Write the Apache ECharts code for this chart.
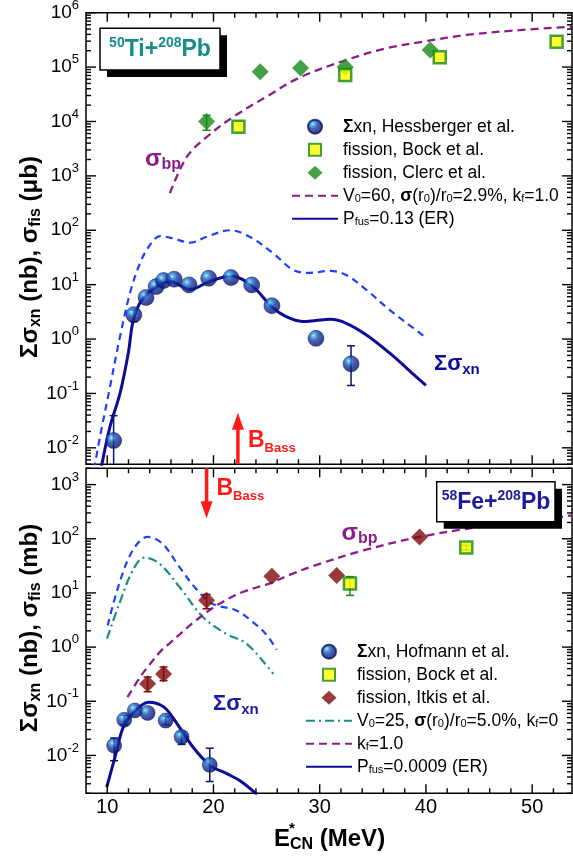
<!DOCTYPE html>
<html>
<head>
<meta charset="utf-8">
<script src="https://cdn.jsdelivr.net/npm/echarts@6/dist/echarts.min.js"></script>
<style>
  html, body { margin: 0; padding: 0; background: #fff; }
  #chart { width: 573px; height: 859px; }
</style>
</head>
<body>
<div id="chart"></div>
<script>
const FONT = 'Liberation Sans';

// ---------- shared energy axis ----------
const xRange = [8, 53.75];
const xLabels = [10, 20, 30, 40, 50];

// ---------- 50Ti + 208Pb (upper panel) ----------
const topRange = [0.005, 1e6];
const hessX = [10.6, 12.5, 13.65, 14.6, 15.3, 16.3, 17.7, 19.55, 21.65, 23.6, 25.5, 29.65, 32.95];
const hessY = [0.0136, 2.8, 5.8, 9.2, 11.9, 12.6, 9.9, 13.1, 13.5, 9.9, 4.1, 1.03, 0.35];
const hessLo = [0.001, 2.1, null, null, null, null, null, null, null, null, null, null, 0.14];
const hessHi = [0.039, 3.4, null, null, null, null, null, null, null, null, null, null, 0.75];

const bockTiX = [22.35, 32.4, 41.3, 52.3];
const bockTiY = [8000, 71600, 151000, 293000];

const clercX = [19.35, 24.4, 28.2, 32.4, 40.4];
const clercY = [10000, 82000, 96000, 100000, 206000];
const clercLo = [6900, null, null, null, null];
const clercHi = [13000, null, null, null, null];

const bpTiX = [15.9, 17.5, 19.4, 21.9, 25.0, 28.1, 32.5, 36.3, 40.1, 43.8, 48.2, 53.75];
const bpTiY = [480, 2250, 5250, 12300, 28600, 64000, 135000, 222000, 302000, 390000, 468000, 555000];

const erTiX = [9.4, 10.26, 11.2, 11.98, 12.45, 13.24, 14.65, 15.9, 17.8, 19.6, 21.65, 23.7, 25.5, 26.8, 28.4, 29.65, 31.0, 32.5, 34.4, 36.6, 38.2, 40.0];
const erTiY = [0.004, 0.0245, 0.1, 0.55, 2.2, 5.2, 9.2, 11.4, 8.2, 11.4, 14.5, 9.2, 3.9, 2.6, 2.1, 2.2, 2.3, 1.95, 1.19, 0.55, 0.29, 0.14];

const fusTiX = [8.75, 9.32, 10.26, 11.2, 12.14, 13.08, 14.0, 14.97, 16.2, 17.8, 19.36, 21.55, 23.4, 25.6, 27.5, 29.0, 31.0, 32.5, 34.4, 36.6, 38.2, 39.8];
const fusTiY = [0.004, 0.016, 0.133, 1.1, 7, 24.7, 53, 78, 71, 59, 76, 100, 76, 38, 18.7, 16.5, 17.9, 15, 8, 3.4, 1.96, 1.14];

const bassTi = [22.3, 0.005, 0.044];

// ---------- 58Fe + 208Pb (lower panel) ----------
const botRange = [0.002, 2000];
const hofX = [10.65, 11.6, 12.6, 13.8, 15.5, 17.0, 19.65];
const hofY = [0.0152, 0.0455, 0.0676, 0.061, 0.044, 0.022, 0.0067];
const hofLo = [0.008, 0.037, null, null, 0.037, 0.016, 0.0033];
const hofHi = [0.021, 0.055, null, null, 0.052, 0.027, 0.0136];

const bockFeX = [32.85, 43.8];
const bockFeY = [14.9, 69];
const bockFeLo = [9, 62];
const bockFeHi = [20, 76];

const itkX = [13.8, 15.3, 19.35, 25.5, 31.6, 39.4];
const itkY = [0.21, 0.32, 7.3, 20.3, 21, 108];
const itkLo = [0.15, 0.24, 5.1, null, null, null];
const itkHi = [0.28, 0.43, 9.4, null, null, null];

const bpFeX = [11.9, 13.1, 13.8, 15.1, 15.84, 18.35, 20.55, 22.75, 25.25, 27.45, 29.5, 34.1, 39.4, 45.1, 50.1, 53.75];
const bpFeY = [0.119, 0.28, 0.43, 0.87, 1.16, 3.1, 6.3, 10.4, 14.9, 22.7, 32, 61, 108, 166, 219, 270];

const kf0X = [9.98, 11.13, 12.4, 13.5, 14.9, 16.8, 19.0, 21.17, 23.1, 25.25, 25.63];
const kf0Y = [1.43, 6.3, 26, 45, 35, 12.9, 3.6, 1.77, 1.16, 0.4, 0.32];

const fusFeX = [10.04, 11.13, 12.4, 13.8, 15.2, 16.8, 18.35, 19.9, 22.1, 23.7, 24.9, 25.95];
const fusFeY = [2.5, 14.9, 61, 108, 81, 30, 12, 6.3, 4.8, 2.9, 1.77, 0.9];

const erFeX = [9.95, 10.73, 11.5, 12.5, 13.9, 15.34, 16.6, 18.1, 19.7, 21.26, 22.5, 24.1];
const erFeY = [0.0026, 0.0093, 0.033, 0.063, 0.096, 0.078, 0.038, 0.014, 0.0065, 0.0046, 0.0034, 0.0019];

const bassFe = [19.35, 2000, 240];

// ---------- colours ----------
const C = {
  purple: '#8b1d8b', blue: '#2040ff', navy: '#0d0d99', teal: '#1a8c8c',
  green: '#168a16', yellow: '#ffff00', maroon: '#7f0a0a', red: '#ff1a1a',
  sphereEdge: '#0a1464'
};
const sphere = {
  type: 'radial', x: 0.36, y: 0.33, r: 0.72,
  colorStops: [
    { offset: 0, color: '#b4f0ff' }, { offset: 0.14, color: '#3aa8e2' },
    { offset: 0.42, color: '#1a40aa' }, { offset: 0.78, color: '#0c1a7c' }, { offset: 1, color: '#08105c' }
  ]
};

// legend glyphs sized inside the 46x14 legend slot
const ICON_SQUARE = 'path://M0,0M46,14M17,1h12v12h-12z';
const ICON_DIAMOND = 'path://M0,0M46,14M23,0L30.5,7L23,14L15.5,7z';

const pairs = (xs, ys) => xs.map((x, i) => [x, ys[i]]);

function curve(gi, name, xs, ys, color, width, type) {
  return {
    type: 'line', name, xAxisIndex: gi, yAxisIndex: gi, data: pairs(xs, ys),
    symbol: 'none', smooth: 0.35, clip: true, z: 2,
    lineStyle: { color, width, type }, itemStyle: { color }
  };
}

function points(gi, name, xs, ys, symbol, size, itemStyle) {
  return {
    type: 'scatter', name, xAxisIndex: gi, yAxisIndex: gi, data: pairs(xs, ys),
    symbol, symbolSize: size, itemStyle, z: 4
  };
}

function errorBars(gi, xs, lo, hi, color, cap) {
  const data = [];
  xs.forEach((x, i) => { if (lo[i] != null) data.push([x, lo[i], hi[i]]); });
  return {
    type: 'custom', xAxisIndex: gi, yAxisIndex: gi, silent: true, z: 3, data,
    encode: { x: 0, y: [1, 2] },
    renderItem(params, api) {
      const cs = params.coordSys;
      const yTop = cs.y, yBot = cs.y + cs.height;
      const x = api.value(0);
      const a = api.coord([x, api.value(1)]);
      const b = api.coord([x, api.value(2)]);
      const st = { stroke: color, lineWidth: 1.5 };
      const kids = [{ type: 'line', shape: { x1: a[0], y1: Math.min(a[1], yBot), x2: b[0], y2: Math.max(b[1], yTop) }, style: st }];
      if (a[1] <= yBot) kids.push({ type: 'line', shape: { x1: a[0] - cap, y1: a[1], x2: a[0] + cap, y2: a[1] }, style: st });
      if (b[1] >= yTop) kids.push({ type: 'line', shape: { x1: b[0] - cap, y1: b[1], x2: b[0] + cap, y2: b[1] }, style: st });
      return { type: 'group', children: kids };
    }
  };
}

function arrow(gi, spec) {
  return {
    type: 'custom', xAxisIndex: gi, yAxisIndex: gi, silent: true, z: 4,
    data: [spec], encode: { x: 0, y: [1, 2] },
    renderItem(params, api) {
      const a = api.coord([api.value(0), api.value(1)]);
      const b = api.coord([api.value(0), api.value(2)]);
      const dir = Math.sign(b[1] - a[1]);
      const head = 17, hw = 6;
      const base = b[1] - dir * head;
      return {
        type: 'group', children: [
          { type: 'line', shape: { x1: a[0], y1: a[1], x2: a[0], y2: base + dir * 2 }, style: { stroke: C.red, lineWidth: 3.5 } },
          { type: 'polygon', shape: { points: [[b[0], b[1]], [b[0] - hw, base], [b[0] + hw, base]] }, style: { fill: C.red } }
        ]
      };
    }
  };
}

// inward ticks on all four sides, log minor ticks on the value axes
function frameTicks(gi, yr) {
  return {
    type: 'custom', xAxisIndex: gi, yAxisIndex: gi, silent: true, z: 6,
    data: [[xRange[0], yr[0]]],
    renderItem(params, api) {
      const kids = [];
      const st = { stroke: '#000', lineWidth: 1.4 };
      const add = (x1, y1, x2, y2) => kids.push({ type: 'line', shape: { x1, y1, x2, y2 }, style: st });
      for (let x = 10; x < xRange[1]; x += 2) {
        const len = x % 10 === 0 ? 9 : 5;
        const pb = api.coord([x, yr[0]]);
        const pt = api.coord([x, yr[1]]);
        add(pb[0], pb[1], pb[0], pb[1] - len);
        add(pt[0], pt[1], pt[0], pt[1] + len);
      }
      const k0 = Math.floor(Math.log10(yr[0])), k1 = Math.ceil(Math.log10(yr[1]));
      for (let k = k0; k <= k1; k++) {
        for (let m = 1; m <= 9; m++) {
          const v = m * Math.pow(10, k);
          if (v < yr[0] * 0.999 || v > yr[1] * 1.001) continue;
          const len = m === 1 ? 10 : 5;
          const pl = api.coord([xRange[0], v]);
          const pr = api.coord([xRange[1], v]);
          add(pl[0], pl[1], pl[0] + len, pl[1]);
          add(pr[0], pr[1], pr[0] - len, pr[1]);
        }
      }
      return { type: 'group', children: kids };
    }
  };
}

function powLabel(v) {
  const l = Math.log10(v);
  const e = Math.round(l);
  if (Math.abs(l - e) > 1e-6) return '';
  return '10{sup|' + e + '}';
}

function yAxis(gi, yr) {
  return {
    gridIndex: gi, type: 'log', logBase: 10, min: yr[0], max: yr[1], splitNumber: 10,
    axisLine: { show: false }, axisTick: { show: false }, splitLine: { show: false },
    axisLabel: {
      formatter: powLabel, margin: 7, color: '#000', fontFamily: FONT, fontSize: 19, lineHeight: 28,
      rich: { sup: { fontFamily: FONT, fontSize: 13, lineHeight: 10, verticalAlign: 'top', color: '#000' } }
    }
  };
}

function xAxis(gi, labels) {
  return {
    gridIndex: gi, type: 'value', min: xRange[0], max: xRange[1], interval: 2,
    axisLine: { show: false }, axisTick: { show: false }, splitLine: { show: false },
    axisLabel: {
      show: labels, margin: 4, color: '#000', fontFamily: FONT, fontSize: 20,
      formatter: v => (xLabels.indexOf(v) >= 0 ? String(v) : '')
    }
  };
}

// ---------- legend text ----------
const legText = {
  'Σxn, Hessberger et al.': '{b|Σ}xn, Hessberger et al.',
  'Σxn, Hofmann et al.': '{b|Σ}xn, Hofmann et al.',
  'fission, Bock et al.': 'fission, Bock et al.',
  'fission, Clerc et al.': 'fission, Clerc et al.',
  'fission, Itkis et al.': 'fission, Itkis et al.',
  'V0=60, σ(r0)/r0=2.9%, kf=1.0': 'V{s|0}=60, {b|σ}(r{s|0})/r{s|0}=2.9%, k{s|f}=1.0',
  'V0=25, σ(r0)/r0=5.0%, kf=0': 'V{s|0}=25, {b|σ}(r{s|0})/r{s|0}=5.0%, k{s|f}=0',
  'kf=1.0': 'k{s|f}=1.0',
  'Pfus=0.13 (ER)': 'P{s|fus}=0.13 (ER)',
  'Pfus=0.0009 (ER)': 'P{s|fus}=0.0009 (ER)'
};
const legRich = {
  b: { fontFamily: FONT, fontSize: 17.5, fontWeight: 'bold', lineHeight: 18, color: '#000' },
  s: { fontFamily: FONT, fontSize: 11, lineHeight: 5, verticalAlign: 'bottom', color: '#000' }
};
// icon === null: keep the series' own line sample, hide its centre marker
function legend(left, top, items) {
  return {
    orient: 'vertical', left, top, padding: 0, itemWidth: 46, itemHeight: 14, itemGap: 5,
    selectedMode: false,
    data: items.map(([name, icon]) => (icon ? { name, icon } : { name, itemStyle: { opacity: 0 } })),
    formatter: n => legText[n],
    textStyle: { fontFamily: FONT, fontSize: 17.5, lineHeight: 18, color: '#000', rich: legRich }
  };
}

// ---------- annotation text ----------
function richText(x, y, text, fill, main, sub, align, rotation) {
  return {
    type: 'text', x, y, z: 100, silent: true, rotation: rotation || 0,
    style: {
      text, fill, fontFamily: FONT, fontWeight: 'bold', fontSize: main, lineHeight: main + 4,
      align: align || 'left', verticalAlign: 'middle',
      rich: {
        m: { fontFamily: FONT, fontWeight: 'bold', fontSize: main, lineHeight: main + 4 },
        s: { fontFamily: FONT, fontWeight: 'bold', fontSize: sub, lineHeight: 10, verticalAlign: 'bottom' },
        p: { fontFamily: FONT, fontWeight: 'bold', fontSize: sub, lineHeight: 10, verticalAlign: 'top' }
      }
    }
  };
}
function box(x, y, w, h) {
  return [
    { type: 'rect', z: 99, silent: true, shape: { x: x + 7, y: y + 7, width: w, height: h }, style: { fill: '#000' } },
    { type: 'rect', z: 99, silent: true, shape: { x, y, width: w, height: h }, style: { fill: '#fff', stroke: '#000', lineWidth: 1.5 } }
  ];
}

const graphic = [
  ...box(100, 28.3, 120, 41.7),
  richText(160, 50, '{p|50}Ti+{p|208}Pb', '#178c8c', 23, 14, 'center'),
  ...box(436.7, 481.7, 118.3, 40),
  richText(496, 502.5, '{p|58}Fe+{p|208}Pb', '#1c1c9c', 23, 14, 'center'),
  richText(145, 159, '{m|σ}{s|bp}', C.purple, 24, 16),
  richText(341.5, 533, '{m|σ}{s|bp}', C.purple, 24, 16),
  richText(434, 364, '{m|Σσ}{s|xn}', '#0c0c96', 22, 15),
  richText(213, 704, '{m|Σσ}{s|xn}', '#1a1aa8', 22, 15),
  richText(248, 441, '{m|B}{s|Bass}', C.red, 23, 13),
  richText(216.5, 489, '{m|B}{s|Bass}', C.red, 23, 13),
  richText(30, 257, '{m|Σσ}{s|xn}{m| (nb), σ}{s|fis}{m| (μb)}', '#000', 24, 16, 'center', Math.PI / 2),
  richText(30, 628, '{m|Σσ}{s|xn}{m| (nb), σ}{s|fis}{m| (mb)}', '#000', 24, 16, 'center', Math.PI / 2),
  richText(274, 839, '{m|E}{s|CN}{m| (MeV)}', '#000', 24, 16),
  richText(289, 829, '*', '#000', 15, 10)
];

const option = {
  animation: false,
  backgroundColor: '#fff',
  textStyle: { fontFamily: FONT },
  grid: [
    { left: 86, top: 12.7, width: 486, height: 451.5, show: true, borderColor: '#000', borderWidth: 1.5, backgroundColor: 'transparent', containLabel: false, outerBoundsMode: 'none' },
    { left: 86, top: 468.3, width: 486, height: 325, show: true, borderColor: '#000', borderWidth: 1.5, backgroundColor: 'transparent', containLabel: false, outerBoundsMode: 'none' }
  ],
  xAxis: [xAxis(0, false), xAxis(1, true)],
  yAxis: [yAxis(0, topRange), yAxis(1, botRange)],
  legend: [
    legend(291, 117.7, [
      ['Σxn, Hessberger et al.', 'circle'], ['fission, Bock et al.', ICON_SQUARE],
      ['fission, Clerc et al.', ICON_DIAMOND], ['V0=60, σ(r0)/r0=2.9%, kf=1.0', null], ['Pfus=0.13 (ER)', null]
    ]),
    legend(305, 642.7, [
      ['Σxn, Hofmann et al.', 'circle'], ['fission, Bock et al.', ICON_SQUARE],
      ['fission, Itkis et al.', ICON_DIAMOND], ['V0=25, σ(r0)/r0=5.0%, kf=0', null],
      ['kf=1.0', null], ['Pfus=0.0009 (ER)', null]
    ])
  ],
  graphic,
  series: [
    // upper panel
    curve(0, 'fusion, 50Ti+208Pb', fusTiX, fusTiY, C.blue, 2.2, [7, 5]),
    curve(0, 'Pfus=0.13 (ER)', erTiX, erTiY, C.navy, 3, 'solid'),
    curve(0, 'V0=60, σ(r0)/r0=2.9%, kf=1.0', bpTiX, bpTiY, C.purple, 2.3, [8, 5]),
    errorBars(0, hessX, hessLo, hessHi, C.sphereEdge, 4),
    points(0, 'Σxn, Hessberger et al.', hessX, hessY, 'circle', 16, { color: sphere, borderColor: C.sphereEdge, borderWidth: 0.6 }),
    errorBars(0, clercX, clercLo, clercHi, C.green, 4),
    points(0, 'fission, Clerc et al.', clercX, clercY, 'diamond', 17, { color: C.green }),
    points(0, 'fission, Bock et al.', bockTiX, bockTiY, 'rect', 12, { color: C.yellow, borderColor: C.green, borderWidth: 2.5 }),
    arrow(0, bassTi),
    frameTicks(0, topRange),
    // lower panel
    curve(1, 'fusion, 58Fe+208Pb', fusFeX, fusFeY, C.blue, 2.2, [7, 5]),
    curve(1, 'V0=25, σ(r0)/r0=5.0%, kf=0', kf0X, kf0Y, C.teal, 2.2, [9, 4, 2, 4]),
    curve(1, 'kf=1.0', bpFeX, bpFeY, C.purple, 2.3, [8, 5]),
    curve(1, 'Pfus=0.0009 (ER)', erFeX, erFeY, C.navy, 3, 'solid'),
    errorBars(1, hofX, hofLo, hofHi, C.sphereEdge, 4),
    points(1, 'Σxn, Hofmann et al.', hofX, hofY, 'circle', 15, { color: sphere, borderColor: C.sphereEdge, borderWidth: 0.6 }),
    errorBars(1, itkX, itkLo, itkHi, C.maroon, 4),
    points(1, 'fission, Itkis et al.', itkX, itkY, 'diamond', 17, { color: C.maroon }),
    errorBars(1, bockFeX, bockFeLo, bockFeHi, C.green, 4),
    points(1, 'fission, Bock et al.', bockFeX, bockFeY, 'rect', 12, { color: C.yellow, borderColor: C.green, borderWidth: 2.5 }),
    arrow(1, bassFe),
    frameTicks(1, botRange)
  ]
};

const chart = echarts.init(document.getElementById('chart'), null, { renderer: 'canvas' });
chart.setOption(option);
</script>
</body>
</html>
